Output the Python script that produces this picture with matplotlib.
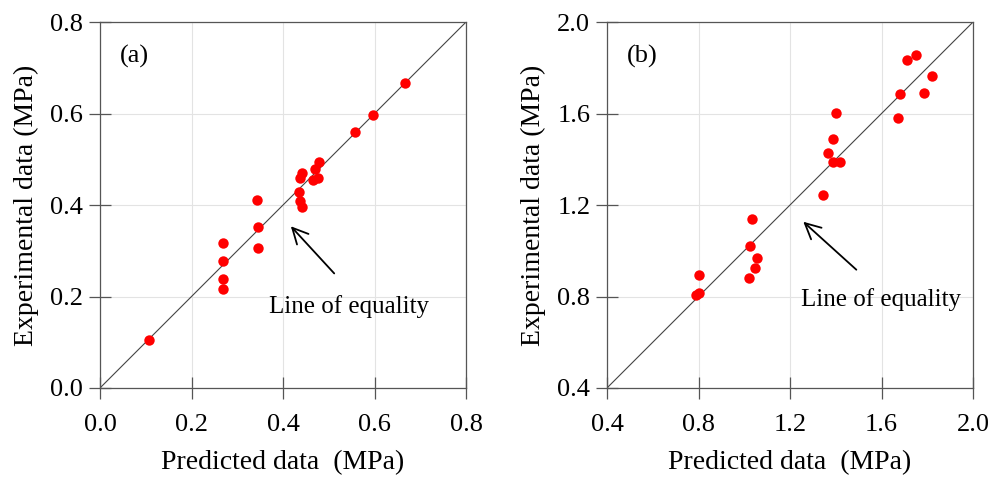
import numpy as np
import matplotlib
matplotlib.use("Agg")
import matplotlib.pyplot as plt

plt.rcParams['font.family'] = ['Liberation Serif', 'DejaVu Serif']

# (a) predicted vs experimental
pred_a = [0.107, 0.268, 0.268, 0.268, 0.268, 0.343, 0.345, 0.346, 0.434, 0.437,
          0.441, 0.437, 0.442, 0.466, 0.470, 0.477, 0.479, 0.557, 0.597, 0.667]
exp_a = [0.106, 0.316, 0.278, 0.238, 0.217, 0.410, 0.353, 0.306, 0.428, 0.409,
         0.395, 0.459, 0.469, 0.455, 0.478, 0.460, 0.493, 0.559, 0.596, 0.667]

# (b) predicted vs experimental
pred_b = [0.788, 0.800, 0.801, 1.023, 1.032, 1.019, 1.047, 1.055, 1.346, 1.365,
          1.387, 1.401, 1.387, 1.419, 1.674, 1.679, 1.711, 1.750, 1.784, 1.819]
exp_b = [0.807, 0.814, 0.894, 1.022, 1.138, 0.880, 0.923, 0.969, 1.243, 1.429,
         1.489, 1.603, 1.389, 1.389, 1.581, 1.684, 1.834, 1.855, 1.691, 1.763]

ticks_a = [0.0, 0.2, 0.4, 0.6, 0.8]
ticks_b = [0.4, 0.8, 1.2, 1.6, 2.0]

panels = [
    dict(x=pred_a, y=exp_a, ticks=ticks_a, tag='(a)', tag_xy=(0.044, 0.724),
         note_xy=(0.370, 0.178), tail=(0.516, 0.246), head=(0.413, 0.358)),
    dict(x=pred_b, y=exp_b, ticks=ticks_b, tag='(b)', tag_xy=(0.485, 1.849),
         note_xy=(1.247, 0.785), tail=(1.499, 0.909), head=(1.249, 1.135)),
]

fig = plt.figure(figsize=(9.99, 4.79), dpi=100)
lefts = [0.1001, 0.6076]
spine_col = '#555555'

for left, p in zip(lefts, panels):
    ax = fig.add_axes([left, 0.19, 0.3664, 0.764])
    lo, hi = p['ticks'][0], p['ticks'][-1]
    ax.set_xlim(lo, hi)
    ax.set_ylim(lo, hi)
    ax.set_xticks(p['ticks'])
    ax.set_yticks(p['ticks'])
    ax.set_xticklabels([f'{t:.1f}' for t in p['ticks']])
    ax.set_yticklabels([f'{t:.1f}' for t in p['ticks']])
    ax.grid(True, color='#e3e3e3', linewidth=0.8)
    ax.set_axisbelow(True)
    for s in ax.spines.values():
        s.set_color(spine_col)
        s.set_linewidth(0.9)
    ax.tick_params(direction='inout', length=16, width=0.9, color=spine_col,
                   labelsize=19)
    ax.tick_params(axis='x', pad=11)
    ax.tick_params(axis='y', pad=4)

    # line of equality
    ax.plot([lo, hi], [lo, hi], color='#444444', linewidth=0.8, zorder=2)
    ax.plot(p['x'], p['y'], 'o', color='#ff0000', markersize=7.5,
            markeredgewidth=0, zorder=3)

    ax.text(p['tag_xy'][0], p['tag_xy'][1], p['tag'], fontsize=19, va='center')
    ax.text(p['note_xy'][0], p['note_xy'][1], 'Line of equality', fontsize=18,
            va='center')
    ax.annotate('', xy=p['head'], xytext=p['tail'],
                arrowprops=dict(arrowstyle='->', color='black', lw=1.3,
                                mutation_scale=28))

    ax.set_xlabel('Predicted data  (MPa)', fontsize=20, va='center')
    ax.set_ylabel('Experimental data (MPa)', fontsize=20, va='center')
    ax.xaxis.set_label_coords(0.5, -0.205)
    ax.yaxis.set_label_coords(-0.2, 0.5)

fig.savefig('out.png', dpi=100)
